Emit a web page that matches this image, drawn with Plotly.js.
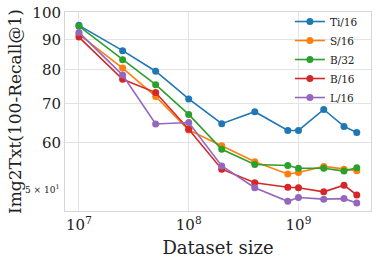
<!DOCTYPE html>
<html>
<head>
<meta charset="utf-8">
<script src="https://cdn.plot.ly/plotly-3.0.1.min.js"></script>
<style>html,body{margin:0;padding:0;background:#fff;}#chart{width:378px;height:260px;}</style>
</head>
<body>
<div id="chart"></div>
<script>
const datasetSizes = [1e7, 2.5e7, 5e7, 1e8, 2e8, 4e8, 8e8, 1e9, 1.7e9, 2.6e9, 3.4e9];
const seriesNames = ["Ti/16", "S/16", "B/32", "B/16", "L/16"];
const ti16 = [95.1, 86.1, 79.4, 71.2, 64.6, 67.7, 62.9, 62.9, 68.3, 63.9, 62.4];
const s16  = [91.8, 80.4, 71.9, 63.0, 59.2, 55.6, 53.0, 53.3, 54.6, 54.0, 53.7];
const b32  = [94.8, 83.1, 75.3, 67.0, 58.4, 55.0, 54.8, 54.2, 54.2, 53.6, 54.3];
const b16  = [90.8, 76.9, 73.0, 63.2, 54.0, 51.2, 50.3, 50.2, 49.4, 50.7, 48.8];
const l16  = [92.5, 78.2, 64.5, 64.9, 54.7, 50.2, 47.6, 48.3, 48.0, 48.1, 47.3];
const yTickVals = [60, 70, 80, 90, 100];
const yTickText = ["60", "70", "80", "90", "100"];
const xTickVals = [1e7, 1e8, 1e9];
const xTickText = ["10<sup>7</sup>", "10<sup>8</sup>", "10<sup>9</sup>"];
const colors = ["#1f77b4", "#ff7f0e", "#2ca02c", "#d62728", "#9467bd"];

const allSeries = [ti16, s16, b32, b16, l16];
const traces = allSeries.map((vals, i) => ({
  x: datasetSizes, y: vals, name: seriesNames[i], type: "scatter", mode: "lines+markers",
  line: {color: colors[i], width: 1.6},
  marker: {color: colors[i], size: 7}
}));

const font = "DejaVu Serif, serif";
const layout = {
  width: 378, height: 260,
  margin: {l: 65, r: 6.5, t: 12, b: 49},
  paper_bgcolor: "#fff", plot_bgcolor: "#fff",
  font: {family: font, color: "#222"},
  showlegend: true,
  legend: {x: 0.735, xanchor: "left", y: 1.025, yanchor: "top", bgcolor: "rgba(0,0,0,0)",
           font: {family: font, size: 10.5, color: "#222"}, tracegroupgap: 0},
  xaxis: {type: "log", range: [6.873, 9.661], tickvals: xTickVals, ticktext: xTickText,
          showgrid: true, gridcolor: "#e3e3e3", gridwidth: 1, zeroline: false,
          showline: true, mirror: true, linecolor: "#d6d6d6", linewidth: 1,
          ticks: "", tickfont: {family: font, size: 15, color: "#222"},
          title: {text: "Dataset size", font: {family: font, size: 18, color: "#222"}, standoff: 8}},
  yaxis: {type: "log", range: [1.661, 2.001], tickvals: yTickVals, ticktext: yTickText,
          showgrid: true, gridcolor: "#e3e3e3", gridwidth: 1, zeroline: false,
          showline: true, mirror: true, linecolor: "#d6d6d6", linewidth: 1,
          ticks: "", tickfont: {family: font, size: 15, color: "#222"},
          title: {text: "Img2Txt(100-Recall@1)", font: {family: font, size: 17, color: "#222"}, standoff: 6}},
  annotations: [{
    xref: "paper", yref: "y", x: 0, y: Math.log10(50), xanchor: "right", yanchor: "middle",
    xshift: -4, showarrow: false, text: "5 × 10<sup>1</sup>",
    font: {family: font, size: 9, color: "#222"}
  }]
};

Plotly.newPlot("chart", traces, layout, {staticPlot: true, displayModeBar: false});
</script>
</body>
</html>
